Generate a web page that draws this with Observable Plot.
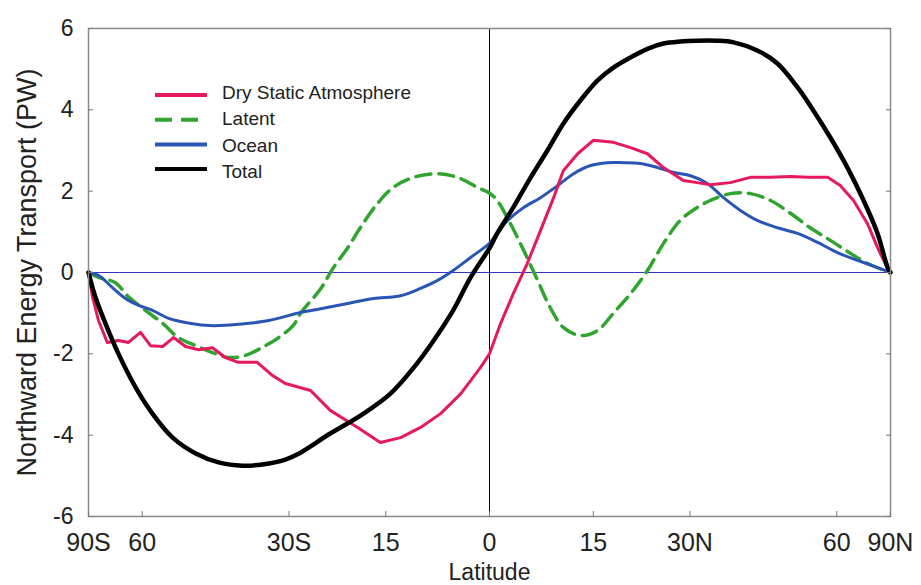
<!DOCTYPE html>
<html><head><meta charset="utf-8">
<script src="https://cdn.jsdelivr.net/npm/d3@7"></script>
<script src="https://cdn.jsdelivr.net/npm/@observablehq/plot@0.6"></script>
<style>
body{margin:0;background:#fff;}
#wrap{position:relative;width:921px;height:585px;font-family:"Liberation Sans",Arial,Helvetica,sans-serif;}
</style></head><body><div id="wrap"></div>
<script>
// ---- tick labels ----
const xTickLats = [-90, -60, -30, -15, 0, 15, 30, 60, 90];
const xTickLabels = ["90S", "60", "30S", "15", "0", "15", "30N", "60", "90N"];
const yTicks = [-6, -4, -2, 0, 2, 4, 6];
const xTitle = "Latitude";
const yTitle = "Northward Energy Transport (PW)";
const seriesNames = ["Dry Static Atmosphere", "Latent", "Ocean", "Total"];

// ---- series (latitude in degrees, transport in PW) ----
const dryLat = [-90, -81.9, -77.2, -72.4, -67.7, -64.2, -60.5, -57.7, -54.6, -52.0, -49.3, -46.5, -43.7, -41.2, -38.8, -35.4, -32.8, -30.6, -26.5, -23.4, -19.2, -15.8, -12.8, -9.9, -7.0, -4.1, -1.3, 0, 1.6, 3.4, 5.4, 7.3, 9.2, 10.6, 12.7, 15.0, 18.0, 20.6, 23.2, 25.7, 28.9, 31.2, 33.4, 36.9, 40.6, 44.5, 48.7, 52.5, 57.5, 61.0, 65.2, 70.5, 75.4, 83.2, 90];
const dryVal = [0, -0.6, -1.18, -1.72, -1.67, -1.72, -1.47, -1.8, -1.82, -1.6, -1.82, -1.9, -1.85, -2.09, -2.21, -2.21, -2.53, -2.73, -2.9, -3.39, -3.81, -4.18, -4.06, -3.81, -3.47, -2.98, -2.34, -2.0, -1.25, -0.52, 0.22, 1.03, 1.84, 2.5, 2.92, 3.25, 3.2, 3.07, 2.92, 2.58, 2.26, 2.21, 2.16, 2.21, 2.34, 2.34, 2.36, 2.34, 2.34, 2.14, 1.77, 1.2, 0.61, 0.1, 0];

const latentLat = [-90, -77.2, -68.9, -64.2, -59.1, -54.6, -50.9, -47.1, -43.7, -40.6, -37.5, -34.5, -31.7, -29.3, -28.1, -24.9, -22.9, -20.7, -18.8, -16.2, -13.9, -10.9, -7.5, -4.6, -1.7, 0, 1.1, 3.0, 4.9, 6.9, 8.7, 10.6, 13.1, 15.6, 18.0, 20.6, 23.2, 25.7, 28.4, 31.2, 33.4, 36.9, 40.6, 44.5, 48.7, 53.1, 58.2, 64.2, 70.5, 90];
const latentVal = [0, -0.12, -0.25, -0.6, -0.93, -1.25, -1.6, -1.8, -1.97, -2.09, -2.04, -1.84, -1.6, -1.3, -1.0, -0.4, 0.12, 0.61, 1.1, 1.7, 2.09, 2.34, 2.43, 2.34, 2.09, 1.95, 1.77, 1.2, 0.54, -0.2, -0.86, -1.35, -1.55, -1.43, -1.0, -0.52, 0.05, 0.71, 1.28, 1.6, 1.77, 1.94, 1.94, 1.77, 1.45, 1.1, 0.79, 0.47, 0.22, 0];

const oceanLat = [-90, -77.2, -70.1, -65.2, -61.0, -57.2, -53.1, -49.3, -45.1, -41.2, -36.9, -33.4, -30.1, -28.1, -24.9, -20.7, -16.8, -12.8, -9.9, -7.5, -5.2, -2.7, 0, 1.1, 2.6, 4.9, 7.3, 9.8, 12.1, 14.6, 17.1, 19.5, 22.1, 24.8, 27.3, 30.1, 32.9, 35.7, 38.8, 41.9, 45.9, 50.2, 54.9, 60.2, 66.6, 75.4, 90];
const oceanVal = [0, -0.07, -0.37, -0.64, -0.81, -0.93, -1.13, -1.23, -1.3, -1.3, -1.25, -1.18, -1.06, -0.98, -0.89, -0.76, -0.64, -0.57, -0.39, -0.2, 0.05, 0.37, 0.72, 0.96, 1.28, 1.6, 1.84, 2.14, 2.43, 2.63, 2.7, 2.7, 2.68, 2.58, 2.46, 2.38, 2.19, 1.84, 1.52, 1.28, 1.1, 0.96, 0.74, 0.49, 0.3, 0.12, 0];

const totalLat = [-90, -79.3, -73.3, -67.7, -61.9, -57.2, -52.2, -47.1, -42.5, -38.0, -34.5, -30.6, -28.6, -23.4, -18.3, -14.3, -10.9, -8.0, -5.2, -2.7, 0, 1.1, 3.4, 5.9, 8.3, 10.6, 13.1, 15.6, 18.0, 20.6, 23.2, 25.7, 28.4, 31.2, 34.5, 37.5, 41.9, 45.9, 50.2, 53.9, 58.2, 63.2, 68.9, 75.4, 83.2, 90];
const totalVal = [0, -0.61, -1.25, -2.0, -2.83, -3.47, -4.06, -4.45, -4.67, -4.75, -4.72, -4.6, -4.47, -3.96, -3.47, -2.98, -2.34, -1.67, -0.93, -0.12, 0.6, 0.96, 1.6, 2.34, 3.0, 3.66, 4.23, 4.72, 5.04, 5.29, 5.5, 5.63, 5.68, 5.7, 5.7, 5.66, 5.46, 5.14, 4.55, 3.98, 3.32, 2.58, 1.77, 0.96, 0.12, 0];

// ---- styling ----
const colors = {"Dry Static Atmosphere": "#e6195c", "Latent": "#2fa52f", "Ocean": "#2a55b5", "Total": "#000000"};
const widths = {"Dry Static Atmosphere": 3, "Latent": 3.5, "Ocean": 3, "Total": 4.5};
const dashes = {"Dry Static Atmosphere": null, "Latent": "15,8", "Ocean": null, "Total": null};

const toX = lat => Math.sin(lat * Math.PI / 180);
const rows = (lats, vals) => lats.map((lat, i) => ({lat, x: toX(lat), y: vals[i]}));
const dry = rows(dryLat, dryVal), latent = rows(latentLat, latentVal), ocean = rows(oceanLat, oceanVal), total = rows(totalLat, totalVal);
const xTickPos = xTickLats.map(toX);
const xLabelOf = new Map(xTickPos.map((p, i) => [p, xTickLabels[i]]));

const plot = Plot.plot({
  width: 921, height: 585,
  marginLeft: 88, marginRight: 31, marginTop: 28, marginBottom: 69,
  style: {fontFamily: "'Liberation Sans', Arial, Helvetica, sans-serif", background: "#fff", color: "#222", overflow: "visible"},
  x: {domain: [-1, 1]},
  y: {domain: [-6, 6]},
  marks: [
    Plot.ruleY([0], {stroke: "#3434c2", strokeWidth: 1}),
    Plot.ruleX([0], {stroke: "#000", strokeWidth: 1}),
    Plot.line(latent, {x: "x", y: "y", stroke: colors["Latent"], strokeWidth: widths["Latent"], strokeDasharray: dashes["Latent"], curve: "catmull-rom"}),
    Plot.line(ocean, {x: "x", y: "y", stroke: colors["Ocean"], strokeWidth: widths["Ocean"], curve: "catmull-rom"}),
    Plot.line(dry, {x: "x", y: "y", stroke: colors["Dry Static Atmosphere"], strokeWidth: widths["Dry Static Atmosphere"], curve: "linear"}),
    Plot.line(total, {x: "x", y: "y", stroke: colors["Total"], strokeWidth: widths["Total"], curve: "catmull-rom"}),
    Plot.frame({stroke: "#8a8a8a", strokeWidth: 1.5}),
    Plot.axisY({ticks: yTicks, tickSize: -5, tickPadding: 20, fontSize: 23, label: null, stroke: "#777", fill: "#222", tickFormat: d => String(d)}),
    Plot.axisY({anchor: "right", ticks: yTicks, tickSize: -5, label: null, stroke: "#777", tickFormat: () => ""}),
    Plot.axisX({ticks: xTickPos, tickSize: -5, tickPadding: 22, fontSize: 25, label: null, stroke: "#777", fill: "#222", tickFormat: d => xLabelOf.get(d)}),
    Plot.text([yTitle], {frameAnchor: "left", textAnchor: "middle", lineAnchor: "middle", rotate: -90, dx: -61, fontSize: 27, fill: "#222"}),
    Plot.text([xTitle], {frameAnchor: "bottom", textAnchor: "middle", lineAnchor: "middle", dy: 56, fontSize: 23, fill: "#222"})
  ]
});
const wrap = document.getElementById("wrap");
wrap.appendChild(plot);

// ---- legend overlay (inside the plot frame, top-left) ----
const lg = d3.select(wrap).append("svg")
  .attr("width", 300).attr("height", 110)
  .style("position", "absolute").style("left", "150px").style("top", "78px");
seriesNames.forEach((name, i) => {
  const ly = 17 + i * 24.7;
  lg.append("line").attr("x1", 5).attr("x2", 57).attr("y1", ly).attr("y2", ly)
    .attr("stroke", colors[name]).attr("stroke-width", 4)
    .attr("stroke-dasharray", dashes[name] ? "17,9" : null);
  lg.append("text").attr("x", 72).attr("y", 21 + i * 26.3)
    .attr("font-family", "'Liberation Sans', Arial, sans-serif").attr("font-size", 19).attr("fill", "#222")
    .text(name);
});
</script></body></html>
